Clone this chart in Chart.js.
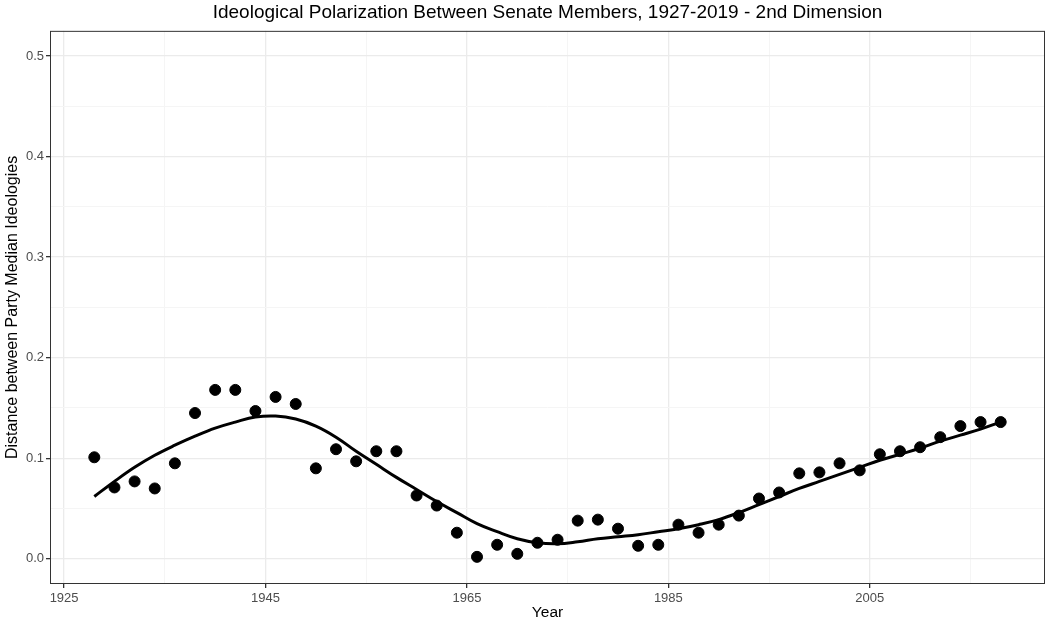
<!DOCTYPE html>
<html>
<head>
<meta charset="utf-8">
<script src="https://cdn.jsdelivr.net/npm/chart.js@4/dist/chart.umd.min.js"></script>
<style>
html,body{margin:0;padding:0;background:#fff;}
#wrap{width:1045px;height:623px;}
</style>
</head>
<body>
<div id="wrap"><canvas id="c" width="1045" height="623"></canvas></div>
<script>
const years = [1928,1930,1932,1934,1936,1938,1940,1942,1944,1946,1948,1950,1952,1954,1956,1958,1960,1962,1964,1966,1968,1970,1972,1974,1976,1978,1980,1982,1984,1986,1988,1990,1992,1994,1996,1998,2000,2002,2004,2006,2008,2010,2012,2014,2016,2018];
const distance = [0.101,0.071,0.077,0.070,0.095,0.145,0.168,0.168,0.147,0.161,0.154,0.090,0.109,0.097,0.107,0.107,0.063,0.053,0.026,0.002,0.014,0.005,0.016,0.019,0.038,0.039,0.030,0.013,0.014,0.034,0.026,0.034,0.043,0.060,0.066,0.085,0.086,0.095,0.088,0.104,0.107,0.111,0.121,0.132,0.136,0.136];
const smoothFit = [0.062,0.077,0.091,0.103,0.113,0.122,0.130,0.136,0.141,0.142,0.139,0.132,0.121,0.107,0.094,0.081,0.069,0.057,0.046,0.035,0.027,0.020,0.016,0.015,0.017,0.020,0.022,0.024,0.027,0.030,0.034,0.039,0.046,0.054,0.062,0.070,0.077,0.084,0.091,0.098,0.104,0.110,0.117,0.123,0.129,0.136];
const xTickValues = [1925,1935,1945,1955,1965,1975,1985,1995,2005,2015];
const xMajorLabels = [1925,1945,1965,1985,2005];
const yTickValues = [0,0.05,0.1,0.15,0.2,0.25,0.3,0.35,0.4,0.45,0.5];
const yMajorLabels = [0,0.1,0.2,0.3,0.4,0.5];

const isMajorX = v => xMajorLabels.includes(v);
const isMajorY = v => yMajorLabels.some(m => Math.abs(m - v) < 1e-9);

const borderPlugin = {
  id: 'panelBorder',
  afterDraw(chart) {
    const a = chart.chartArea, ctx = chart.ctx;
    ctx.save();
    ctx.strokeStyle = '#333333';
    ctx.lineWidth = 1;
    ctx.strokeRect(a.left + 0.5, a.top + 0.5, a.right - a.left - 1, a.bottom - a.top - 1);
    ctx.restore();
  }
};

new Chart(document.getElementById('c'), {
  type: 'scatter',
  data: {
    datasets: [
      {
        type: 'line',
        label: 'Smooth',
        data: years.map((y, i) => ({x: y, y: smoothFit[i]})),
        borderColor: '#000000',
        borderWidth: 3,
        pointRadius: 0,
        tension: 0.4,
        fill: false,
        order: 1
      },
      {
        label: 'Distance',
        data: years.map((y, i) => ({x: y, y: distance[i]})),
        backgroundColor: '#000000',
        borderColor: '#000000',
        pointRadius: 5.5,
        pointHoverRadius: 5.5,
        order: 2
      }
    ]
  },
  options: {
    responsive: false,
    animation: false,
    devicePixelRatio: 1,
    layout: {autoPadding: false, padding: {left: 0, right: 0, top: 0, bottom: 0}},
    plugins: {
      legend: {display: false},
      tooltip: {enabled: false},
      title: {
        display: true,
        fullSize: false,
        text: 'Ideological Polarization Between Senate Members, 1927-2019 - 2nd Dimension',
        color: '#000000',
        font: {family: '"Liberation Sans", Arial, sans-serif', size: 19, weight: 'normal', lineHeight: 1.15},
        padding: {top: 2, bottom: 7}
      }
    },
    scales: {
      x: {
        type: 'linear',
        min: 1923.6,
        max: 2022.4,
        afterBuildTicks: s => { s.ticks = xTickValues.map(v => ({value: v})); },
        afterFit: s => { s.height = 39; s.paddingLeft = 0; s.paddingRight = 0; },
        border: {display: false},
        grid: {
          color: c => (c.tick && isMajorX(c.tick.value)) ? '#EBEBEB' : '#F5F5F5',
          lineWidth: c => (c.tick && isMajorX(c.tick.value)) ? 1.3 : 1,
          tickColor: c => (c.tick && isMajorX(c.tick.value)) ? '#333333' : 'rgba(0,0,0,0)',
          tickLength: 4,
          drawTicks: true
        },
        ticks: {
          autoSkip: false,
          maxRotation: 0,
          padding: 3,
          color: '#4D4D4D',
          font: {family: '"Liberation Sans", Arial, sans-serif', size: 13},
          callback: v => isMajorX(v) ? String(v) : ''
        },
        title: {
          display: true,
          text: 'Year',
          color: '#000000',
          font: {family: '"Liberation Sans", Arial, sans-serif', size: 15.5},
          padding: {top: 0, bottom: 1}
        }
      },
      y: {
        type: 'linear',
        min: -0.025,
        max: 0.525,
        afterBuildTicks: s => { s.ticks = yTickValues.map(v => ({value: v})); },
        afterFit: s => { s.width = 50; s.paddingTop = 0; s.paddingBottom = 0; },
        border: {display: false},
        grid: {
          color: c => (c.tick && isMajorY(c.tick.value)) ? '#EBEBEB' : '#F5F5F5',
          lineWidth: c => (c.tick && isMajorY(c.tick.value)) ? 1.3 : 1,
          tickColor: c => (c.tick && isMajorY(c.tick.value)) ? '#333333' : 'rgba(0,0,0,0)',
          tickLength: 4,
          drawTicks: true
        },
        ticks: {
          autoSkip: false,
          padding: 2,
          color: '#4D4D4D',
          font: {family: '"Liberation Sans", Arial, sans-serif', size: 13},
          callback: v => isMajorY(v) ? v.toFixed(1) : ''
        },
        title: {
          display: true,
          text: 'Distance between Party Median Ideologies',
          color: '#000000',
          font: {family: '"Liberation Sans", Arial, sans-serif', size: 16},
          padding: {top: 3, bottom: 0}
        }
      }
    }
  },
  plugins: [borderPlugin]
});
</script>
</body>
</html>
